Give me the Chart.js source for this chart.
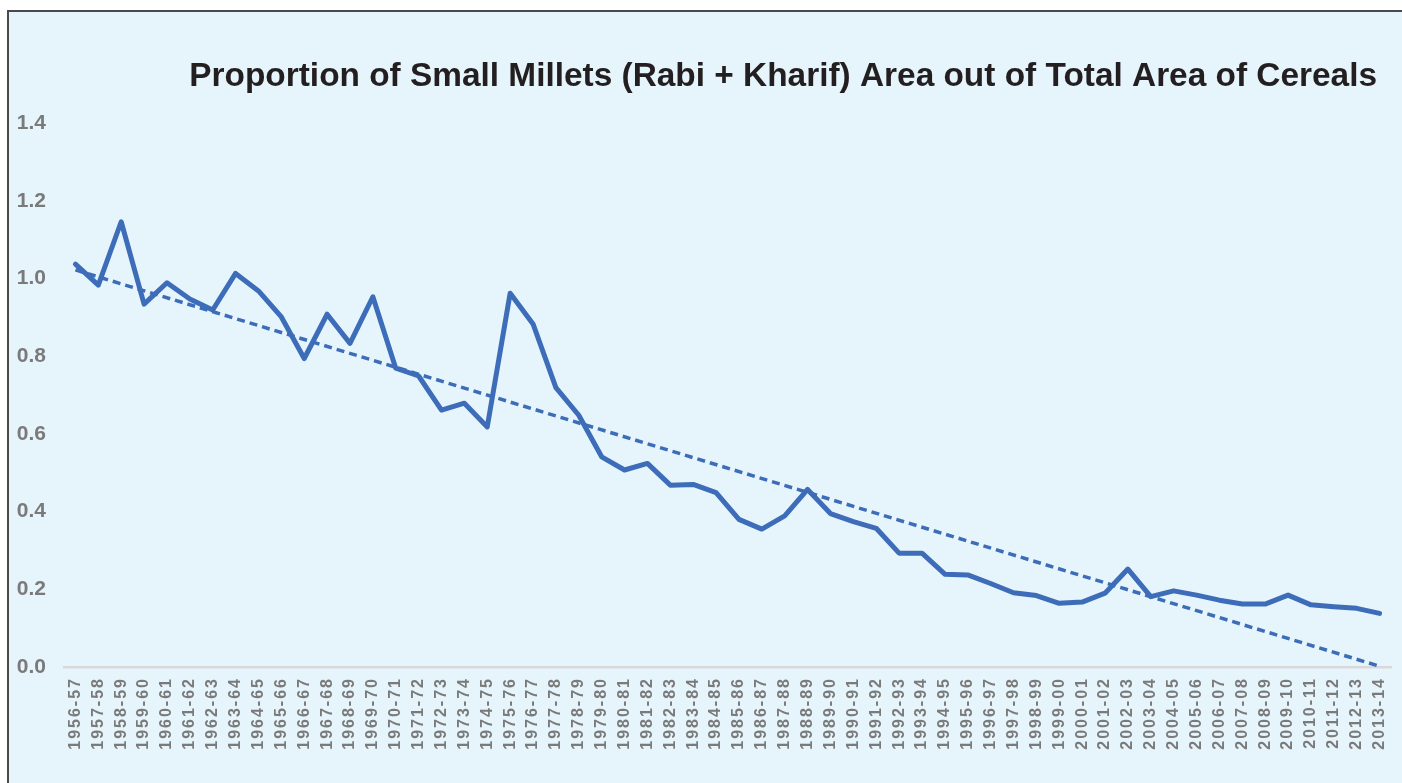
<!DOCTYPE html>
<html>
<head>
<meta charset="utf-8">
<script src="https://cdn.jsdelivr.net/npm/chart.js@4"></script>
<style>
  body { margin: 0; background: #ffffff; }
  #frame {
    position: absolute; left: 7px; top: 10px; width: 1400px; height: 780px;
    background: #e6f4fc; border-left: 2px solid #4a4a4a; border-top: 2px solid #4a4a4a;
  }
  #progressChart { position: absolute; left: 0; top: 0; }
</style>
</head>
<body>
<div id="frame"></div>
<canvas id="progressChart" width="1402" height="783"></canvas>
<script>
var years = [
    '1956-57', '1957-58', '1958-59', '1959-60', '1960-61', '1961-62', '1962-63', '1963-64',
    '1964-65', '1965-66', '1966-67', '1967-68', '1968-69', '1969-70', '1970-71', '1971-72',
    '1972-73', '1973-74', '1974-75', '1975-76', '1976-77', '1977-78', '1978-79', '1979-80',
    '1980-81', '1981-82', '1982-83', '1983-84', '1984-85', '1985-86', '1986-87', '1987-88',
    '1988-89', '1989-90', '1990-91', '1991-92', '1992-93', '1993-94', '1994-95', '1995-96',
    '1996-97', '1997-98', '1998-99', '1999-00', '2000-01', '2001-02', '2002-03', '2003-04',
    '2004-05', '2005-06', '2006-07', '2007-08', '2008-09', '2009-10', '2010-11', '2011-12',
    '2012-13', '2013-14'
];

// share of small millets area in total cereals area
var share = [
    1.037, 0.983, 1.146, 0.934, 0.989, 0.947, 0.919, 1.013,
    0.968, 0.901, 0.794, 0.908, 0.833, 0.953, 0.769, 0.749,
    0.661, 0.679, 0.618, 0.962, 0.883, 0.719, 0.648, 0.541,
    0.507, 0.524, 0.468, 0.470, 0.449, 0.380, 0.355, 0.389,
    0.457, 0.395, 0.374, 0.357, 0.293, 0.293, 0.239, 0.237,
    0.215, 0.191, 0.184, 0.164, 0.167, 0.190, 0.252, 0.181,
    0.196, 0.185, 0.172, 0.162, 0.162, 0.185, 0.160, 0.155,
    0.151, 0.138
];

// linear trend, start and end values
var trendEnds = [1.022, 0.002];

var yTicks = [0, 0.2, 0.4, 0.6, 0.8, 1.0, 1.2, 1.4];

var trend = years.map(function(y, i) {
    if (i === 0) return trendEnds[0];
    if (i === years.length - 1) return trendEnds[1];
    return null;
});

var blue = '#3d6cb8';
var grey = '#7a7a7a';

// puts the title's right edge where the original has it and
// spreads the rotated year labels a little, like the original
var labelSpacing = {
    id: 'labelSpacing',
    afterLayout: function(chart) {
        chart.titleBlock.right = 1377;
    },
    afterDatasetsDraw: function(chart) {
        chart.ctx.letterSpacing = '2px';
    },
    afterDraw: function(chart) {
        chart.ctx.letterSpacing = '0px';
    }
};

var ctx = document.getElementById('progressChart').getContext('2d');

var progressChart = new Chart(ctx, {
    type: 'line',
    data: {
        labels: years,
        datasets: [{
            label: 'Linear trend',
            data: trend,
            borderColor: blue,
            borderWidth: 3.5,
            borderDash: [8, 5],
            pointRadius: 0,
            spanGaps: true,
            order: 0
        }, {
            label: 'Proportion',
            data: share,
            borderColor: blue,
            borderWidth: 5,
            borderJoinStyle: 'round',
            borderCapStyle: 'round',
            pointRadius: 0,
            tension: 0,
            order: 1
        }]
    },
    options: {
        responsive: false,
        animation: false,
        layout: { padding: { left: 0, right: 11, top: 0, bottom: 0 } },
        plugins: {
            legend: { display: false },
            tooltip: { enabled: false },
            title: {
                display: true,
                text: 'Proportion of Small Millets (Rabi + Kharif) Area out of Total Area of Cereals',
                align: 'end',
                color: '#231f20',
                font: { family: '"Liberation Sans", Arial, sans-serif', size: 33.4, weight: 'bold', lineHeight: 1.2 },
                padding: { top: 57, bottom: 26 }
            }
        },
        scales: {
            x: {
                offset: true,
                grid: { display: false },
                border: { color: '#d9d9d9', width: 2.5 },
                afterFit: function(scale) { scale.height = 116; },
                ticks: {
                    z: 1,
                    autoSkip: false,
                    maxRotation: 90,
                    minRotation: 90,
                    padding: 2,
                    color: grey,
                    font: { family: '"Liberation Sans", Arial, sans-serif', size: 16, weight: 'bold' }
                }
            },
            y: {
                min: 0,
                max: 1.4,
                grid: { display: false, drawTicks: false },
                border: { display: false },
                afterFit: function(scale) { scale.width = 64; },
                afterBuildTicks: function(scale) {
                    scale.ticks = yTicks.map(function(v) { return { value: v }; });
                },
                ticks: {
                    padding: 18,
                    color: grey,
                    font: { family: '"Liberation Sans", Arial, sans-serif', size: 21, weight: 'bold' },
                    callback: function(v) { return Number(v).toFixed(1); }
                }
            }
        }
    },
    plugins: [labelSpacing]
});
</script>
</body>
</html>
